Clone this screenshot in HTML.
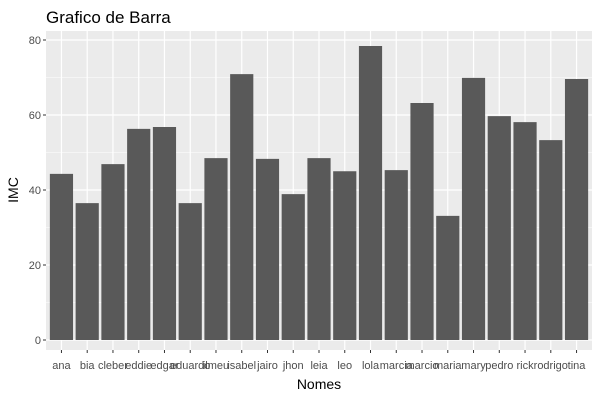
<!DOCTYPE html>
<html><head><meta charset="utf-8"><style>
body{margin:0;background:#fff;}
svg text{font-family:"Liberation Sans",Arial,sans-serif;}
</style></head><body>
<svg id="chart" width="600" height="400" xmlns="http://www.w3.org/2000/svg">
<rect width="600" height="400" fill="#fff"/>
<text x="46" y="23" font-size="17" fill="#000">Grafico de Barra</text>
<rect x="46" y="31" width="546" height="319" fill="#ebebeb"/>
<g id="grid"></g><g id="bars"></g><g id="axes"></g>
<text x="319" y="389" font-size="14" text-anchor="middle">Nomes</text>
<text x="0" y="0" font-size="14" text-anchor="middle" transform="translate(18,190) rotate(-90)">IMC</text>
</svg>
<script>
const categories=["ana","bia","cleber","eddie","edgar","eduardo","ilmeu","isabel","jairo","jhon","leia","leo","lola","marcia","marcio","maria","mary","pedro","rick","rodrigo","tina"];
const values=[44.3,36.5,46.9,56.3,56.8,36.5,48.5,70.9,48.3,38.9,48.5,45,78.4,45.3,63.2,33.1,69.9,59.7,58.1,53.3,69.6];
const yTicks=[0,20,40,60,80];
const NS="http://www.w3.org/2000/svg";
const L=46,R=592,T=31,B=350;
const step=(R-L)/(categories.length+0.2);
const x=i=>L+step*(i+0.6);
const y=v=>340-v*3.75;
function mk(tag,attrs,parent){const e=document.createElementNS(NS,tag);for(const k in attrs)e.setAttribute(k,attrs[k]);document.getElementById(parent).appendChild(e);return e;}
yTicks.forEach((t,i)=>{
  if(i<yTicks.length-1){const m=mk('line',{x1:L,x2:R,y1:y(t+10),y2:y(t+10),stroke:'#fff','stroke-width':0.6},'grid');
  
  }
  const g=mk('line',{x1:L,x2:R,y1:y(t),y2:y(t),stroke:'#fff','stroke-width':1.2},'grid');
  
  
  const tk=mk('line',{x1:L-3,x2:L,y1:y(t),y2:y(t),stroke:'#333'},'axes');
  
  
  const tx=mk('text',{x:L-5,y:y(t)+4,'font-size':11,fill:'#4d4d4d','text-anchor':'end'},'axes');
  tx.textContent=t;
  
  
});
categories.forEach((c,i)=>{
  const g=mk('line',{x1:x(i),x2:x(i),y1:T,y2:B,stroke:'#fff','stroke-width':1.2},'grid');
  
  
  const w=step*0.9;
  const b=mk('rect',{x:x(i)-w/2,y:y(values[i]),width:w,height:y(0)-y(values[i]),fill:'#595959'},'bars');
  
  
  const tk=mk('line',{x1:x(i),x2:x(i),y1:B,y2:B+3,stroke:'#333'},'axes');
  
  
  const tx=mk('text',{x:x(i),y:B+19,'font-size':11,fill:'#4d4d4d','text-anchor':'middle'},'axes');
  tx.textContent=c;
  
  
});
</script>
</body></html>
